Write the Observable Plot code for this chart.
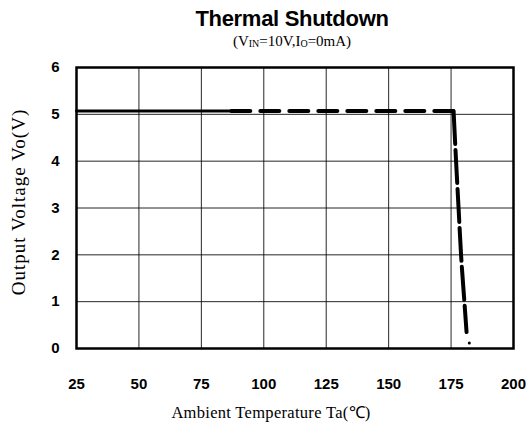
<!DOCTYPE html>
<html><head><meta charset="utf-8">
<script src="https://cdn.jsdelivr.net/npm/d3@7"></script>
<script src="https://cdn.jsdelivr.net/npm/@observablehq/plot@0.6"></script>
<style>
body{margin:0;background:#fff;}
#wrap{width:528px;height:430px;position:relative;}
#title{position:absolute;left:0;width:528px;top:6px;text-align:center;font:bold 22px "Liberation Sans",Arial,sans-serif;color:#000;padding-left:56px;box-sizing:border-box;letter-spacing:-0.3px;}
#sub{position:absolute;left:0;width:528px;top:33px;text-align:center;font:15px "Liberation Serif","Times New Roman",serif;color:#000;padding-left:56px;box-sizing:border-box;}
#sub sub{font-size:10px;vertical-align:-1px;}
#chart{position:absolute;left:0;top:52px;}
</style></head>
<body><div id="wrap">
<div id="title">Thermal Shutdown</div>
<div id="sub">(V<sub>IN</sub>=10V,I<sub>O</sub>=0mA)</div>
<div id="chart"></div>
</div>
<script>
const xTicks = [25, 50, 75, 100, 125, 150, 175, 200];
const yTicks = [0, 1, 2, 3, 4, 5, 6];
const solidT = [25, 87];
const solidV = [5.07, 5.07];
const dashT = [87, 176];
const dashV = [5.07, 5.07];
const dropT = [176, 177, 178, 179, 180.6, 181.2];
const dropV = [5.07, 4.0, 3.0, 2.0, 0.8, 0.35];
const endT = [182.3];
const endV = [0.12];
const xLabel = "Ambient Temperature Ta(℃)";
const yLabel = "Output Voltage Vo(V)";

const pts = (T, V) => T.map((t, i) => ({t, v: V[i]}));

const chart = Plot.plot({
  width: 528,
  height: 378,
  marginTop: 15,
  marginBottom: 82,
  marginLeft: 76,
  marginRight: 15,
  x: {domain: [25, 200]},
  y: {domain: [0, 6]},
  marks: [
    Plot.gridX(xTicks, {stroke: "#000", strokeOpacity: 0.85, strokeWidth: 1}),
    Plot.gridY(yTicks, {stroke: "#000", strokeOpacity: 0.85, strokeWidth: 1}),
    Plot.axisX(xTicks, {tickSize: 0, tickPadding: 30, label: null, fontFamily: "Liberation Sans, Arial, sans-serif", fontWeight: "bold", fontSize: 15, fill: "#000"}),
    Plot.axisY(yTicks, {tickSize: 0, tickPadding: 17, label: null, fontFamily: "Liberation Sans, Arial, sans-serif", fontWeight: "bold", fontSize: 15, fill: "#000"}),
    Plot.frame({stroke: "#000", strokeWidth: 2.5}),
    Plot.line(pts(solidT, solidV), {x: "t", y: "v", stroke: "#000", strokeWidth: 3}),
    Plot.line(pts(dashT, dashV), {x: "t", y: "v", stroke: "#000", strokeWidth: 4, strokeDasharray: "19,10"}),
    Plot.line(pts(dropT, dropV), {x: "t", y: "v", stroke: "#000", strokeWidth: 4, strokeDasharray: "33,6", curve: "monotone-y"}),
    Plot.dot(pts(endT, endV), {x: "t", y: "v", r: 1.5, fill: "#000", stroke: null}),
    Plot.text([xLabel], {frameAnchor: "bottom", dx: -24, dy: 64, textAnchor: "middle", lineAnchor: "middle", text: d => d, fontFamily: "Liberation Serif, Times New Roman, serif", fontSize: 16.5, fill: "#000", style: "letter-spacing:0.3px"}),
    Plot.text([yLabel], {frameAnchor: "left", dx: -58, dy: -6, rotate: -90, textAnchor: "middle", lineAnchor: "middle", text: d => d, fontFamily: "Liberation Serif, Times New Roman, serif", fontSize: 19, fill: "#000"})
  ]
});
chart.querySelectorAll("text").forEach(t => { if (t.textContent === yLabel) t.style.letterSpacing = "1px"; if (t.textContent === xLabel) t.style.letterSpacing = "0.3px"; });
document.getElementById("chart").appendChild(chart);
</script>
</body></html>
